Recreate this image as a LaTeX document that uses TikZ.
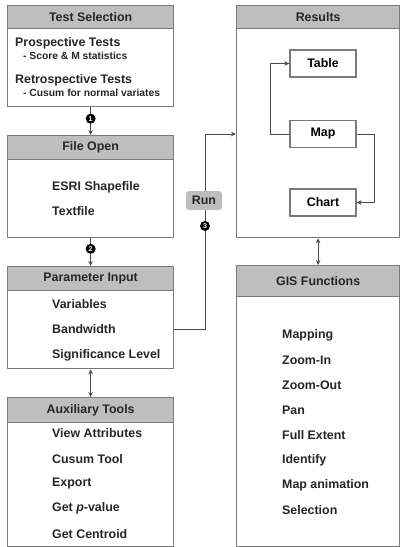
\documentclass[tikz,border=0pt]{standalone}
\usepackage{fontspec}
\setmainfont{Liberation Sans}
\usetikzlibrary{positioning,arrows.meta,calc}
\definecolor{borde}{HTML}{7A7A7A}
\definecolor{cabeza}{HTML}{BEBEBE}
\newcommand{\sub}[1]{{\fontsize{10.3}{12}\selectfont #1}}

\begin{document}
\begin{tikzpicture}[x=1pt, y=-1pt, font=\bfseries\fontsize{12.4}{14}\selectfont,
      >={Stealth[length=5pt,width=4.5pt]},
      caja/.style={draw=borde, line width=1.3pt, fill=white, inner sep=0pt, anchor=north west},
      cab/.style={caja, fill=cabeza, text=black!85},
      chica/.style={draw=borde, line width=1.2pt, fill=white, minimum width=66, minimum height=27, inner sep=0pt},
      paso/.style={circle, fill=black, text=white, inner sep=0pt, minimum size=10pt,
                   font=\bfseries\fontsize{7}{7}\selectfont},
      item/.style={anchor=west, inner sep=0pt, text=black!85},
      flecha/.style={draw=black!70, line width=1pt}]
    \useasboundingbox (0,0) rectangle (400,547);
    % left column
    \node[caja, minimum width=166, minimum height=101] (ts) at (7,5) {};
    \node[cab, minimum width=166, minimum height=23] (tsh) at (7,5) {Test Selection};
    \node[caja, minimum width=166, minimum height=102] (fo) at (7,135) {};
    \node[cab, minimum width=166, minimum height=24] (foh) at (7,135) {File Open};
    \node[caja, minimum width=166, minimum height=102] (pi) at (7,266) {};
    \node[cab, minimum width=166, minimum height=24] (pih) at (7,266) {Parameter Input};
    \node[caja, minimum width=166, minimum height=149] (at) at (7,397) {};
    \node[cab, minimum width=166, minimum height=25] (ath) at (7,397) {Auxiliary Tools};
    % right column
    \node[caja, minimum width=163, minimum height=232] (re) at (236,5) {};
    \node[cab, minimum width=163, minimum height=23] (reh) at (236,5) {Results};
    \node[caja, minimum width=163, minimum height=281] (gis) at (236,265) {};
    \node[cab, minimum width=163, minimum height=31] (gish) at (236,265) {GIS Functions};

    \node[item] (pro) at (15,43) {Prospective Tests};
    \node[item] (prs) at (23,56) {\sub{- Score \& M statistics}};
    \node[item] (ret) at (15,80) {Retrospective Tests};
    \node[item] (rts) at (23,93) {\sub{- Cusum for normal variates}};

    \node[item] (shp) at (52,187) {ESRI Shapefile};
    \node[item] (txt) at (52,211) {Textfile};

    \node[item] (var) at (52,304) {Variables};
    \node[item] (bw) at (52,329) {Bandwidth};
    \node[item] (sig) at (52,355) {Significance Level};

    \node[item] (va) at (52,433) {View Attributes};
    \node[item] (ct) at (52,459) {Cusum Tool};
    \node[item] (ex) at (52,484) {Export};
    \node[item] (pv) at (52,508) {Get \textit{p}-value};
    \node[item] (gc) at (52,534) {Get Centroid};

    \foreach \n/\t/\y in {mp/Mapping/335, zi/Zoom-In/360, zo/Zoom-Out/385, pn/Pan/410,
                          fe/Full Extent/435, id/Identify/460, ma/Map animation/485, se/Selection/510}
      \node[item] (\n) at (282,\y) {\t};

    % results
    \node[chica] (tab) at (323,63.5) {Table};
    \node[chica] (map) at (323,134) {Map};
    \node[chica] (cha) at (323,202.5) {Chart};
    \draw[flecha, ->] (map.west) -- ++(-19,0) |- (tab.west);
    \draw[flecha, ->] (map.east) -- ++(18,0) |- (cha.east);

    % flow
    \draw[flecha, ->] (ts.south) -- (fo.north);
    \node[paso] (n1) at ($(ts.south)!0.41!(fo.north)$) {1};
    \draw[flecha, ->] (fo.south) -- (pi.north);
    \node[paso] (n2) at ($(fo.south)!0.38!(pi.north)$) {2};
    \draw[flecha, <->] (pi.south) -- (at.north);
    \draw[flecha, <->] (re.south) -- (gis.north);

    \coordinate (giro) at (205,134);
    \draw[flecha, ->] (pi.east |- bw) -| (giro) -- (re.west |- giro);
    \node[fill=cabeza, rounded corners=3pt, minimum width=36, minimum height=19, inner sep=0pt,
          text=black!85] (run) at (204,200.5) {Run};
    \node[paso] (n3) at (205,226) {3};
\end{tikzpicture}
\end{document}
